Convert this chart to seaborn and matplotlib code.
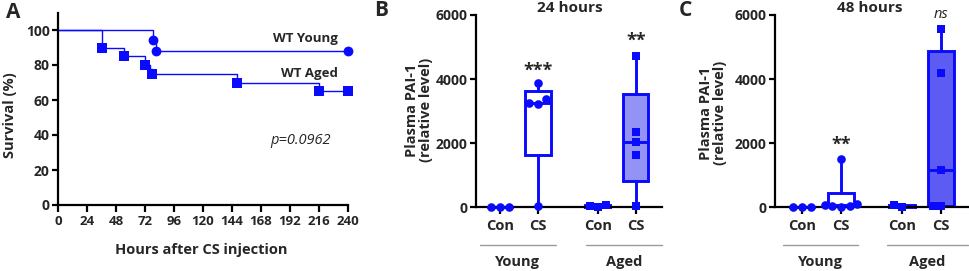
import numpy as np
import pandas as pd
import matplotlib
matplotlib.use("Agg")
import matplotlib.pyplot as plt
import matplotlib.transforms as mtrans
import seaborn as sns

# ---------------- data ----------------
# Panel A: Kaplan-Meier survival
young_t = [0, 79, 81, 240]
young_s = [100, 94.1, 88.2, 88.2]
young_mark_t = [79, 81, 240]
young_mark_s = [94.1, 88.2, 88.2]
aged_t = [0, 36, 55, 72, 76.5, 78, 148, 216, 240]
aged_s = [100, 90, 85, 80, 77.5, 75, 70, 65, 65]
aged_mark_t = [36, 55, 72, 78, 148, 216, 240]
aged_mark_s = [90, 85, 80, 75, 70, 65, 65]
hour_ticks = list(range(0, 241, 24))
surv_ticks = [0, 20, 40, 60, 80, 100]
p_text = "p=0.0962"

# Panels B/C: plasma PAI-1
categories = ["Con", "CS", "Con", "CS"]
groups = ["Young", "Aged"]
positions = [0, 1, 2.57, 3.57]
pai_ticks = [0, 2000, 4000, 6000]

b_young_con = [10, 10, 10]
b_young_cs = [50, 3223, 3264, 3370, 3888]
b_aged_con = [20, 60, 30]
b_aged_cs = [30, 1632, 2047, 2359, 4720]
b_stars = ["", "***", "", "**"]
b_star_y = [0, 4250, 0, 5200]

c_young_con = [10, 10, 10]
c_young_cs = [10, 30, 50, 70, 90, 1500]
c_aged_con = [10, 60]
c_aged_cs = [40, 50, 1150, 4180, 5550]
c_stars = ["", "**", "", "ns"]
c_star_y = [0, 1950, 0, 6000]

BLUE = "#0a0aff"
FILL_B = "#9393f5"
FILL_C = "#5c5cf2"

sns.set_theme(style="ticks")
FONT = ["Open Sans", "DejaVu Sans"]
plt.rcParams["font.family"] = FONT
plt.rcParams["font.weight"] = "bold"
plt.rcParams["axes.linewidth"] = 1.6

W, H = 969, 271
fig = plt.figure(figsize=(W / 100, H / 100), dpi=100)


def px_axes(l, t, r, b):
    return fig.add_axes([l / W, 1 - b / H, (r - l) / W, (b - t) / H])


def style_axes(ax, xsize=9.5, ysize=10):
    for s in ["top", "right"]:
        ax.spines[s].set_visible(False)
    for s in ["left", "bottom"]:
        ax.spines[s].set_linewidth(1.6)
        ax.spines[s].set_color("black")
    ax.tick_params(axis="both", width=1.6, length=4, color="black")
    for lab in ax.get_yticklabels():
        lab.set_fontweight("bold")
        lab.set_fontsize(ysize)
    for lab in ax.get_xticklabels():
        lab.set_fontweight("bold")
        lab.set_fontsize(xsize)


# ---------------- Panel A ----------------
axA = px_axes(58, 12.5, 348, 205)
sns.lineplot(x=young_t, y=young_s, drawstyle="steps-post", color=BLUE, lw=1.0,
             ax=axA, estimator=None, sort=False)
sns.lineplot(x=aged_t, y=aged_s, drawstyle="steps-post", color=BLUE, lw=1.0,
             ax=axA, estimator=None, sort=False)
sns.scatterplot(x=young_mark_t, y=young_mark_s, marker="o", s=50, color=BLUE,
                edgecolor=BLUE, linewidth=0, ax=axA, zorder=3)
sns.scatterplot(x=aged_mark_t, y=aged_mark_s, marker="s", s=50, color=BLUE,
                edgecolor=BLUE, linewidth=0, ax=axA, zorder=3)
for c in axA.collections:
    c.set_clip_on(False)
axA.set_xlim(0, 240)
axA.set_ylim(0, 110)
axA.set_xticks(hour_ticks)
axA.set_yticks(surv_ticks)
style_axes(axA, xsize=9.5, ysize=10)
axA.tick_params(axis="x", length=5, pad=2)
axA.tick_params(axis="y", length=4, pad=2)
axA.set_xlabel("")
axA.set_ylabel("")
axA.text(232, 95.4, "WT Young", ha="right", va="center", fontsize=9.5, fontweight="bold")
axA.text(232, 75.4, "WT Aged", ha="right", va="center", fontsize=9.5, fontweight="bold")
axA.text(226, 36.6, p_text, ha="right", va="center", fontsize=10.5,
         fontweight="normal", style="italic")
fig.text(201 / W, 1 - 250 / H, "Hours after CS injection", ha="center", va="center",
         fontsize=10.5, fontweight="bold")
fig.text(10 / W, 1 - 115 / H, "Survival (%)", ha="center", va="center", rotation=90,
         fontsize=10.5, fontweight="bold")


# ---------------- Panels B / C ----------------
def box_panel(ax, data, fills, stars, star_y, xlim, young_line, aged_line):
    stats = []
    for vals in data:
        v = np.asarray(vals, dtype=float)
        q1, med, q3 = np.percentile(v, [25, 50, 75], method="weibull")
        stats.append(dict(med=med, q1=q1, q3=q3, whislo=v.min(), whishi=v.max(), fliers=[]))
    bp = ax.bxp(stats, positions=positions, widths=0.66, patch_artist=True,
                showcaps=False, showfliers=False,
                boxprops=dict(edgecolor=BLUE, linewidth=2.1),
                whiskerprops=dict(color=BLUE, linewidth=2.1),
                medianprops=dict(color=BLUE, linewidth=2.1))
    for patch, fc in zip(bp["boxes"], fills):
        patch.set_facecolor(fc)
    for art in bp["whiskers"] + bp["medians"] + bp["boxes"]:
        art.set_clip_on(False)

    rows_y, rows_a = [], []
    for i, vals in enumerate(data):
        for v in vals:
            (rows_y if i < 2 else rows_a).append(dict(pos=positions[i], val=v))
    sns.swarmplot(data=pd.DataFrame(rows_y), x="pos", y="val", native_scale=True,
                  marker="o", color=BLUE, size=6.2, linewidth=0, ax=ax, zorder=4)
    sns.swarmplot(data=pd.DataFrame(rows_a), x="pos", y="val", native_scale=True,
                  marker="s", color=BLUE, size=5.6, linewidth=0, ax=ax, zorder=4)
    for c in ax.collections:
        c.set_clip_on(False)

    ax.set_xlim(*xlim)
    ax.set_ylim(0, 6000)
    ax.set_yticks(pai_ticks)
    ax.set_xticks(positions)
    ax.set_xticklabels(categories)
    style_axes(ax, xsize=10.5, ysize=10)
    ax.tick_params(axis="x", length=5, pad=3.5)
    ax.tick_params(axis="y", length=4, pad=2)
    ax.set_xlabel("")
    ax.set_ylabel("")

    for i, s in enumerate(stars):
        if not s:
            continue
        if s == "ns":
            ax.text(positions[i], star_y[i], s, ha="center", va="center",
                    fontsize=10.5, style="italic", fontweight="normal", clip_on=False)
        else:
            ax.text(positions[i], star_y[i], s, ha="center", va="center",
                    fontsize=13, fontweight="bold", clip_on=False)

    tr = mtrans.blended_transform_factory(ax.transData, ax.transAxes)
    for (x0, x1), name in zip([young_line, aged_line], groups):
        ax.plot([x0, x1], [-0.196, -0.196], color="#9a9a9a", lw=1.0,
                transform=tr, clip_on=False)
        ax.text((x0 + x1) / 2, -0.284, name, ha="center", va="center", transform=tr,
                fontsize=10.5, fontweight="bold", clip_on=False)


axB = px_axes(476, 15, 662, 207.3)
box_panel(axB, [b_young_con, b_young_cs, b_aged_con, b_aged_cs],
          ["white", "white", "white", FILL_B], b_stars, b_star_y,
          (-0.63, 4.26), (-0.53, 1.47), (2.26, 4.26))

axC = px_axes(775, 15, 969, 207.3)
box_panel(axC, [c_young_con, c_young_cs, c_aged_con, c_aged_cs],
          ["white", "white", "white", FILL_C], c_stars, c_star_y,
          (-0.69, 4.28), (-0.48, 1.44), (2.18, 4.26))

fig.text(570 / W, 1 - 8 / H, "24 hours", ha="center", va="center", fontsize=11,
         fontweight="bold")
fig.text(870 / W, 1 - 8 / H, "48 hours", ha="center", va="center", fontsize=11,
         fontweight="bold")
fig.text(419 / W, 1 - 110 / H, "Plasma PAI-1\n(relative level)", ha="center", va="center",
         rotation=90, fontsize=10.5, fontweight="bold", linespacing=0.95,
         multialignment="center")
fig.text(713 / W, 1 - 113 / H, "Plasma PAI-1\n(relative level)", ha="center", va="center",
         rotation=90, fontsize=10.5, fontweight="bold", linespacing=0.95,
         multialignment="center")

fig.text(6 / W, 1 - 12 / H, "A", ha="left", va="center", fontsize=15, fontweight="bold")
fig.text(374 / W, 1 - 11 / H, "B", ha="left", va="center", fontsize=15, fontweight="bold")
fig.text(679 / W, 1 - 11 / H, "C", ha="left", va="center", fontsize=15, fontweight="bold")

fig.savefig("out.png", dpi=100)
